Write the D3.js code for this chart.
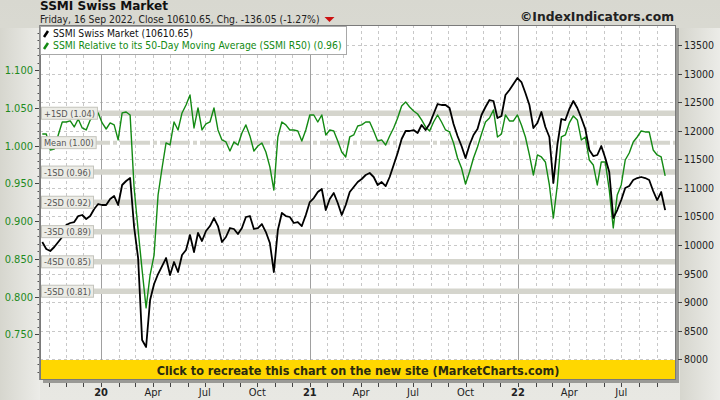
<!DOCTYPE html>
<html><head><meta charset="utf-8">
<script src="https://cdn.jsdelivr.net/npm/d3@7"></script>
<style>body{margin:0;background:#e2e2dc;}svg{display:block}</style>
</head><body><svg id="c" width="720" height="400"></svg>
<script>
// ---------- data (weekly Friday closes, 20 Sep 2019 .. 16 Sep 2022) ----------
const firstWeek = "2019-09-20";
const lastWeek = "2022-09-16";
const price = [
10052, 9930, 9895, 9965, 10052, 10140, 10350, 10385, 10402, 10507,
10525, 10455, 10507, 10630, 10717, 10700, 10700, 10805, 10857, 10700,
11050, 11120, 11172, 10315, 9772, 8337, 8215, 9037, 9317, 9492,
9632, 9772, 9475, 9702, 9527, 9825, 9912, 10175, 9877, 10210,
10070, 10245, 10332, 10472, 10332, 10052, 10140, 10297, 10280, 10192,
10297, 10490, 10507, 10280, 10297, 10367, 10227, 10035, 9527, 10262,
10560, 10507, 10490, 10385, 10402, 10332, 10525, 10752, 10822, 10927,
10980, 10612, 10805, 10910, 10735, 10525, 10700, 10927, 11015, 11102,
11155, 11225, 11260, 11190, 11050, 11102, 11032, 11190, 11400, 11610,
11855, 11995, 11995, 12012, 11960, 12100, 12012, 12117, 12292, 12467,
12450, 12450, 12397, 12117, 11907, 11732, 11522, 11750, 11925, 12030,
12275, 12415, 12537, 12520, 12222, 12257, 12625, 12712, 12817, 12922,
12852, 12660, 12450, 12047, 12135, 12327, 12065, 11890, 11085, 11750,
12205, 12187, 12380, 12520, 12397, 12222, 12030, 11662, 11557, 11575,
11732, 11522, 11277, 10472, 10612, 10787, 10997, 11032, 11137, 11172,
11190, 11172, 11137, 10945, 10787, 10927, 10610.65
];
const r50 = [
1.0155, 1.0155, 0.9943, 0.9956, 1.0142, 1.0314, 1.0314, 1.0328, 1.0248, 1.0354,
1.0235, 1.0208, 1.0341, 1.0381, 1.0434, 1.0301, 1.0221, 1.0301, 1.0275, 1.0076,
1.0434, 1.0447, 1.0407, 0.9439, 0.8882, 0.8351, 0.7850, 0.8285, 0.8550, 0.9346,
0.9704, 1.0036, 1.0009, 1.0314, 1.0208, 1.0434, 1.0540, 1.0672, 1.0235, 1.0500,
1.0208, 1.0288, 1.0314, 1.0500, 1.0208, 1.0076, 1.0049, 0.9930, 1.0049, 1.0009,
1.0168, 1.0275, 1.0129, 0.9930, 0.9996, 1.0036, 0.9916, 0.9718, 0.9412, 1.0115,
1.0314, 1.0275, 1.0208, 1.0208, 1.0195, 1.0062, 1.0208, 1.0407, 1.0407, 1.0314,
1.0407, 1.0142, 1.0208, 1.0195, 1.0062, 0.9916, 0.9850, 1.0115, 1.0142, 1.0261,
1.0275, 1.0314, 1.0314, 1.0195, 1.0062, 1.0076, 1.0009, 1.0129, 1.0235, 1.0367,
1.0526, 1.0580, 1.0513, 1.0460, 1.0420, 1.0341, 1.0248, 1.0195, 1.0314, 1.0407,
1.0314, 1.0208, 1.0182, 1.0036, 0.9837, 0.9704, 0.9492, 0.9651, 0.9837, 0.9983,
1.0155, 1.0314, 1.0367, 1.0473, 1.0115, 1.0155, 1.0407, 1.0328, 1.0328, 1.0407,
1.0275, 1.0115, 0.9877, 0.9611, 0.9877, 0.9850, 0.9784, 0.9479, 0.9041, 0.9479,
1.0115, 1.0142, 1.0301, 1.0394, 1.0341, 1.0076, 1.0115, 0.9810, 0.9744, 0.9479,
0.9784, 0.9784, 0.9412, 0.8908, 0.9346, 0.9479, 0.9810, 0.9903, 1.0049, 1.0115,
1.0195, 1.0182, 1.0182, 0.9943, 0.9877, 0.9850, 0.9600
];
const sdLabels = ["+1SD (1.04)", "Mean (1.00)", "-1SD (0.96)", "-2SD (0.92)", "-3SD (0.89)", "-4SD (0.85)", "-5SD (0.81)"];
const sdValues = [1.043, 1.004, 0.965, 0.925, 0.886, 0.846, 0.807];
const leftTicks = [0.75, 0.80, 0.85, 0.90, 0.95, 1.00, 1.05, 1.10];
const rightTicks = [8000, 8500, 9000, 9500, 10000, 10500, 11000, 11500, 12000, 12500, 13000, 13500];
const xLabelDates = ["2020-01-01","2020-04-01","2020-07-01","2020-10-01","2021-01-01","2021-04-01","2021-07-01","2021-10-01","2022-01-01","2022-04-01","2022-07-01"];
const xLabelTexts = ["20","Apr","Jul","Oct","21","Apr","Jul","Oct","22","Apr","Jul"];
const titleText = "SSMI Swiss Market";
const subtitleText = "Friday, 16 Sep 2022, Close 10610.65, Chg. -136.05 (-1.27%)";
const copyrightText = "\u00A9IndexIndicators.com";
const legendTexts = ["SSMI Swiss Market (10610.65)", "SSMI Relative to its 50-Day Moving Average (SSMI R50) (0.96)"];
const bannerText = "Click to recreate this chart on the new site (MarketCharts.com)";

// ---------- setup ----------
const parse = d3.timeParse("%Y-%m-%d");
const dates = d3.timeFriday.range(parse(firstWeek), d3.timeDay.offset(parse(lastWeek), 1));
const L = 40, R = 676, T = 25, B = 380;
const x = d3.scaleTime().domain([new Date(2019, 8, 16), new Date(2022, 9, 5)]).range([L, R]);
const yL = d3.scaleLinear().domain([0.6893, 1.160]).range([B, T]);
const yR = d3.scaleLinear().domain([7637.5, 13850]).range([B, T]);
const GREEN = "#138a13";
const FONT = "'DejaVu Sans Condensed','DejaVu Sans',sans-serif";
const NARROW = "'Liberation Sans Narrow','DejaVu Sans Condensed',sans-serif";

const svg = d3.select("#c");
const defs = svg.append("defs");
const g1 = defs.append("linearGradient").attr("id", "bg").attr("x1", 0).attr("y1", 0).attr("x2", 0).attr("y2", 1);
g1.append("stop").attr("offset", "0%").attr("stop-color", "#d8d8d0");
g1.append("stop").attr("offset", "100%").attr("stop-color", "#e8e8e3");
const g2 = defs.append("linearGradient").attr("id", "side").attr("x1", 0).attr("y1", 0).attr("x2", 1).attr("y2", 0);
g2.append("stop").attr("offset", "0%").attr("stop-color", "#d6d6ce");
g2.append("stop").attr("offset", "100%").attr("stop-color", "#ececE8");
defs.append("clipPath").attr("id", "clip").append("rect").attr("x", L).attr("y", T).attr("width", R - L).attr("height", B - T);

svg.append("rect").attr("width", 720).attr("height", 400).attr("fill", "url(#bg)");
svg.append("rect").attr("x", 0).attr("y", 28).attr("width", L).attr("height", 372).attr("fill", "url(#side)");
svg.append("rect").attr("x", R + 4).attr("y", 28).attr("width", 720 - R - 4).attr("height", 372).attr("fill", "url(#side)");

// shadow + plot
svg.append("rect").attr("x", L + 3).attr("y", T + 3).attr("width", R - L).attr("height", B - T).attr("fill", "#9a9a96");
svg.append("rect").attr("x", L).attr("y", T).attr("width", R - L).attr("height", B - T).attr("fill", "#fff");

const plot = svg.append("g").attr("clip-path", "url(#clip)");
const months = d3.timeMonth.range(new Date(2019, 9, 1), new Date(2022, 8, 2));
// grid
plot.selectAll(".hg").data(rightTicks).join("line")
  .attr("x1", L).attr("x2", R).attr("y1", d => Math.round(yR(d)) + 0.5).attr("y2", d => Math.round(yR(d)) + 0.5)
  .attr("stroke", "#c8c8c8").attr("stroke-dasharray", "3,3");
plot.selectAll(".vg").data(months).join("line")
  .attr("x1", d => Math.round(x(d)) + 0.5).attr("x2", d => Math.round(x(d)) + 0.5).attr("y1", T).attr("y2", B)
  .attr("stroke", d => d.getMonth() === 0 ? "#a0a0a0" : "#c8c8c8")
  .attr("stroke-dasharray", d => d.getMonth() === 0 ? null : "3,3");
// SD bands
plot.selectAll(".band").data(sdValues).join("line")
  .attr("x1", L).attr("x2", R).attr("y1", d => yL(d)).attr("y2", d => yL(d))
  .attr("stroke", "#d5d5cd").attr("stroke-width", (d, i) => i === 1 ? 4 : 5.5)
  .attr("stroke-dasharray", (d, i) => i === 1 ? "30,3,4,3" : null);
// lines
plot.append("path").datum(r50.map((v, i) => [dates[i], v]))
  .attr("fill", "none").attr("stroke", GREEN).attr("stroke-width", 1.4).attr("stroke-linejoin", "round")
  .attr("d", d3.line().x(d => x(d[0])).y(d => yL(d[1])));
plot.append("path").datum(price.map((v, i) => [dates[i], v]))
  .attr("fill", "none").attr("stroke", "#000").attr("stroke-width", 1.8).attr("stroke-linejoin", "round")
  .attr("d", d3.line().x(d => x(d[0])).y(d => yR(d[1])));

// band labels
const labG = svg.append("g");
const probe = labG.append("text").attr("font-family", FONT).attr("font-size", 10).text(sdLabels[0]);
const labFs = 10 * 51 / probe.node().getComputedTextLength();
probe.remove();
sdLabels.forEach((t, i) => {
  const yy = yL(sdValues[i]);
  const tx = labG.append("text").attr("x", 44).attr("y", yy + 3.5).attr("font-family", FONT).attr("font-size", labFs)
    .attr("fill", "#555").text(t);
  const w = tx.node().getComputedTextLength();
  labG.insert("rect", "text").attr("x", 41.5).attr("y", yy - 6).attr("width", w + 5).attr("height", 12)
    .attr("fill", "#ececE6").attr("stroke", "#c4c4bc");
});

// banner
svg.append("rect").attr("x", L).attr("y", 360).attr("width", R - L).attr("height", B - 360).attr("fill", "#ffd700");
const bt = svg.append("text").attr("x", (L + R) / 2).attr("y", 375).attr("text-anchor", "middle")
  .attr("font-family", NARROW).attr("font-weight", "bold").attr("font-size", 14).attr("fill", "#2a2a10").text(bannerText);

// plot border
svg.append("rect").attr("x", L + 0.5).attr("y", T + 0.5).attr("width", R - L - 1).attr("height", B - T - 1)
  .attr("fill", "none").attr("stroke", "#7a7a7a");

// legend
svg.append("rect").attr("x", L + 0.5).attr("y", 26.5).attr("width", 306).attr("height", 28)
  .attr("fill", "#fff").attr("stroke", "#a8a8a8");
svg.append("line").attr("x1", 44).attr("y1", 37).attr("x2", 48).attr("y2", 31).attr("stroke", "#000").attr("stroke-width", 2.5);
svg.append("line").attr("x1", 44).attr("y1", 49).attr("x2", 48).attr("y2", 43).attr("stroke", GREEN).attr("stroke-width", 2.5);
const lt1 = svg.append("text").attr("x", 53).attr("y", 37).attr("font-family", FONT).attr("font-size", 10.5).attr("fill", "#111").text(legendTexts[0]);
const lt2 = svg.append("text").attr("x", 53).attr("y", 49).attr("font-family", FONT).attr("font-size", 10.5).attr("fill", GREEN).text(legendTexts[1]);

// titles
const tt = svg.append("text").attr("x", 40).attr("y", 10).attr("font-family", "'DejaVu Sans',sans-serif").attr("font-weight", "bold").attr("font-size", 13).attr("fill", "#111").text(titleText);
const st = svg.append("text").attr("x", 40).attr("y", 22.5).attr("font-family", FONT).attr("font-size", 11).attr("fill", "#222").text(subtitleText);
const ct = svg.append("text").attr("x", 674).attr("y", 21).attr("text-anchor", "end").attr("font-family", "'DejaVu Sans',sans-serif").attr("font-weight", "bold").attr("font-size", 12).attr("fill", "#222").text(copyrightText);

function fit(sel, w) {
  const l = sel.node().getComputedTextLength();
  sel.attr("font-size", parseFloat(sel.attr("font-size")) * w / l);
}
fit(tt, 128); fit(st, 280); fit(ct, 154); fit(lt1, 140); fit(lt2, 289); fit(bt, 403);
const stEnd = 40 + st.node().getComputedTextLength();
svg.append("path").attr("d", `M${stEnd + 5},17 L${stEnd + 15},17 L${stEnd + 10},22 Z`).attr("fill", "#cc1111");

// left axis
const minorL = d3.range(70, 116).map(v => v / 100);
svg.selectAll(".lmin").data(minorL).join("line")
  .attr("x1", 37.5).attr("x2", L).attr("y1", d => Math.round(yL(d)) + 0.5).attr("y2", d => Math.round(yL(d)) + 0.5).attr("stroke", "#555");
svg.selectAll(".lmaj").data(leftTicks).join("line")
  .attr("x1", 35).attr("x2", L).attr("y1", d => Math.round(yL(d)) + 0.5).attr("y2", d => Math.round(yL(d)) + 0.5).attr("stroke", "#444");
svg.selectAll(".llab").data(leftTicks).join("text")
  .attr("x", 33).attr("y", d => yL(d) + 4).attr("text-anchor", "end").attr("font-family", FONT).attr("font-size", 11)
  .attr("fill", "#1e8a1e").text(d3.format(".3f"));
svg.append("line").attr("x1", L - 0.5).attr("x2", L - 0.5).attr("y1", T).attr("y2", B).attr("stroke", "#8a8a8a");

// right axis
svg.selectAll(".rmaj").data(rightTicks).join("line")
  .attr("x1", 678).attr("x2", 682).attr("y1", d => Math.round(yR(d)) + 0.5).attr("y2", d => Math.round(yR(d)) + 0.5).attr("stroke", "#444");
svg.selectAll(".rlab").data(rightTicks).join("text")
  .attr("x", 684).attr("y", d => yR(d) + 4).attr("font-family", FONT).attr("font-size", 10.5)
  .attr("fill", "#222").text(d => d);

// bottom axis
svg.selectAll(".bt").data(months).join("line")
  .attr("x1", d => Math.round(x(d)) + 0.5).attr("x2", d => Math.round(x(d)) + 0.5).attr("y1", B + 3).attr("y2", B + 7).attr("stroke", "#444");
svg.selectAll(".bl").data(xLabelDates).join("text")
  .attr("x", d => x(parse(d))).attr("y", 396).attr("text-anchor", "middle")
  .attr("font-family", NARROW).attr("font-size", 11)
  .attr("font-weight", (d, i) => /^\d/.test(xLabelTexts[i]) ? "bold" : "normal")
  .attr("fill", "#222").text((d, i) => xLabelTexts[i]);
</script></body></html>
